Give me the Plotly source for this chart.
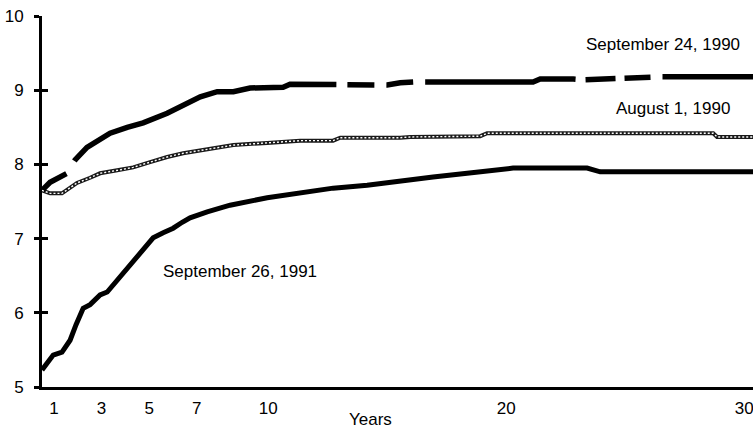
import plotly.graph_objects as go

# ---- data (years to maturity, yield %) ----
sep91_x = [0.50, 0.97, 1.34, 1.68, 1.93, 2.23, 2.52, 2.94, 3.24, 3.66, 4.08, 4.62, 5.17, 5.59,
           6.01, 6.39, 6.72, 7.44, 8.40, 9.96, 11.34, 12.73, 14.16, 15.55, 16.93, 18.36, 19.75,
           20.29, 23.40, 23.95, 30.60]
sep91_y = [5.23, 5.43, 5.47, 5.63, 5.84, 6.06, 6.11, 6.24, 6.28, 6.44, 6.60, 6.78, 7.01, 7.08,
           7.14, 7.22, 7.28, 7.36, 7.45, 7.55, 7.61, 7.68, 7.72, 7.78, 7.83, 7.88, 7.92,
           7.95, 7.95, 7.90, 7.90]

aug90_x = [0.50, 0.84, 1.34, 1.68, 1.97, 2.52, 2.94, 3.66, 4.33, 5.04, 5.76, 6.43, 7.15, 7.86,
           8.54, 9.96, 11.34, 12.73, 13.03, 15.55, 15.97, 18.91, 19.20, 28.70, 28.86, 30.60]
aug90_y = [7.65, 7.61, 7.61, 7.68, 7.75, 7.82, 7.88, 7.92, 7.96, 8.03, 8.10, 8.15, 8.19, 8.23,
           8.26, 8.29, 8.32, 8.32, 8.36, 8.36, 8.37, 8.38, 8.42, 8.42, 8.37, 8.37]

sep90_x = [0.50, 0.84, 1.55, 1.89, 2.39, 2.94, 3.36, 4.08, 4.75, 5.76, 6.60, 7.15, 7.86, 8.54,
           9.24, 9.96, 10.63, 10.92, 12.90, 15.00, 15.55, 16.10, 21.13, 21.43, 22.82, 23.24,
           26.48, 30.60]
sep90_y = [7.65, 7.76, 7.88, 8.06, 8.23, 8.33, 8.42, 8.50, 8.56, 8.69, 8.83, 8.91, 8.98, 8.98,
           9.03, 9.04, 9.04, 9.08, 9.08, 9.07, 9.10, 9.11, 9.11, 9.15, 9.15, 9.14,
           9.18, 9.18]

y_ticks = [5, 6, 7, 8, 9, 10]
x_ticks = [1, 3, 5, 7, 10, 20, 30]

labels = ["September 24, 1990", "August 1, 1990", "September 26, 1991"]
label_x = [26.6, 27.0, 8.82]
label_y = [9.62, 8.75, 6.55]

FONT = "Liberation Sans, Arial, sans-serif"

fig = go.Figure()

fig.add_trace(go.Scatter(x=sep91_x, y=sep91_y, mode="lines",
                         line=dict(color="black", width=5), hoverinfo="skip"))
fig.add_trace(go.Scatter(x=aug90_x, y=aug90_y, mode="lines",
                         line=dict(color="#1a1a1a", width=4), hoverinfo="skip"))
fig.add_trace(go.Scatter(x=sep90_x, y=sep90_y, mode="lines",
                         line=dict(color="black", width=5.5,
                                   dash="30px,15px,281px,11px,27px,12px,27px,12px,151px,10px,30px,9px,26px,12px,400px,1px"),
                         hoverinfo="skip"))
# white dotted core of the Aug 1 line, on the overlay axis (also makes its crossing ticks render)
fig.add_trace(go.Scatter(x=aug90_x, y=aug90_y, mode="lines", yaxis="y2",
                         line=dict(color="white", width=1.4, dash="2px,2px"), hoverinfo="skip"))

for t, lx, ly in zip(labels, label_x, label_y):
    fig.add_annotation(x=lx, y=ly, text=t, showarrow=False,
                       font=dict(family=FONT, size=17, color="black"))

fig.add_annotation(x=14.3, y=-0.0566, xref="x", yref="paper", yanchor="top", text="Years",
                   showarrow=False, font=dict(family=FONT, size=17, color="black"))

fig.update_layout(
    width=753, height=437,
    margin=dict(l=42, r=0, t=16, b=50),
    paper_bgcolor="white", plot_bgcolor="white",
    showlegend=False,
    xaxis=dict(range=[0.5, 30.37], tickvals=x_ticks, ticktext=[str(v) for v in x_ticks],
               showgrid=False, zeroline=False, showline=True, linecolor="black", linewidth=2.5,
               ticks="", ticklabelstandoff=4, ticklabeloverflow="allow",
               tickfont=dict(family=FONT, size=17, color="black")),
    yaxis=dict(range=[5, 10], tickvals=y_ticks, showgrid=False, zeroline=False,
               showline=True, linecolor="black", linewidth=3, ticks="outside", ticklen=5,
               tickwidth=2.5, tickcolor="black", ticklabelstandoff=7, ticklabeloverflow="allow",
               tickfont=dict(family=FONT, size=17, color="black")),
    yaxis2=dict(range=[5, 10], overlaying="y", side="left", tickvals=y_ticks,
                showgrid=False, zeroline=False, showline=False, ticks="inside", ticklen=6,
                tickwidth=2.5, tickcolor="black", showticklabels=False),
)

fig.write_html("out.html", config={"displayModeBar": False},
               post_script="document.body.style.margin='0px';")
